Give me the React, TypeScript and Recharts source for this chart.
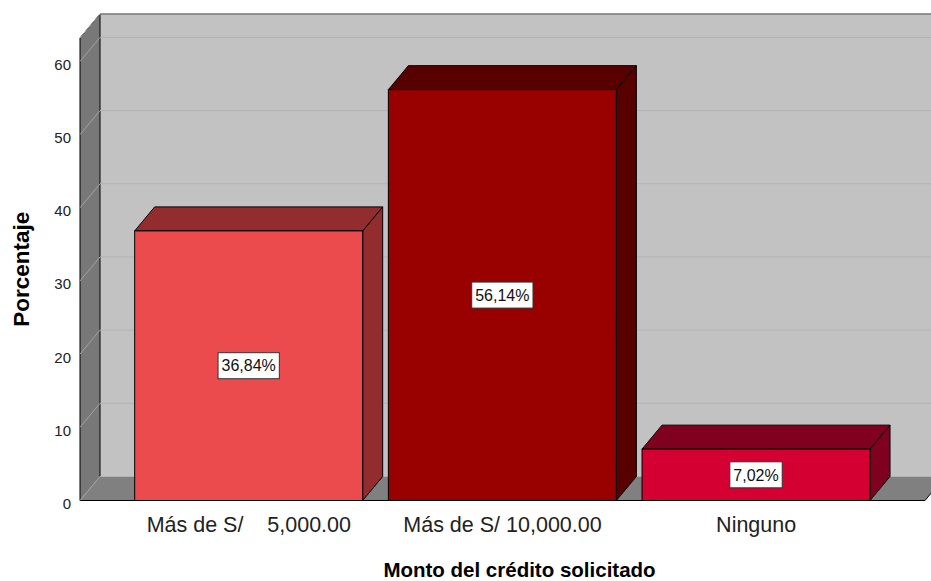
import { Bar, BarChart, CartesianGrid, LabelList, XAxis, YAxis } from "recharts";

const categories = ["Más de S/    5,000.00", "Más de S/ 10,000.00", "Ninguno"];
const percentages = [36.84, 56.14, 7.02];
const yTicks = [0, 10, 20, 30, 40, 50, 60];
const yMax = 63.2;

const FRONT_COLORS = ["#EC4B4D", "#990000", "#D40032"];
const SHADE_COLORS = ["#922C2E", "#580000", "#800020"];

// depth of the fake 3D box (right / up)
const DX = 20;
const DY = 24;
const FONT = '"Liberation Sans", Arial, sans-serif';
const WALL_GRID = "#B3B3B3";
const SIDE_GRID = "#A2A2A2";

const data = categories.map((name, i) => ({ name, value: percentages[i] }));

let measureCtx: CanvasRenderingContext2D | null = null;
function textWidth(text: string, font: string) {
  if (!measureCtx) measureCtx = document.createElement("canvas").getContext("2d");
  if (!measureCtx) return text.length * 8;
  measureCtx.font = font;
  return measureCtx.measureText(text).width;
}

function Walls({ x, y, width, height }: { x: number; y: number; width: number; height: number }) {
  const bottom = y + height;
  const right = x + width;
  return (
    <g>
      <rect x={x + DX} y={y - DY} width={width} height={height} fill="#C2C2C2" />
      <polygon
        points={`${x},${y} ${x + DX},${y - DY} ${x + DX},${bottom - DY} ${x},${bottom}`}
        fill="#787878"
      />
      <polygon
        points={`${x},${bottom} ${x + DX},${bottom - DY} ${right + DX},${bottom - DY} ${right},${bottom}`}
        fill="#808080"
      />
      <g stroke="#000" strokeWidth={1}>
        <line x1={x} y1={y} x2={x} y2={bottom} />
        <line x1={x} y1={y} x2={x + DX} y2={y - DY} />
        <line x1={x + DX} y1={y - DY} x2={right + DX} y2={y - DY} />
        <line x1={x + DX} y1={y - DY} x2={x + DX} y2={bottom - DY} />
        <line x1={x} y1={bottom} x2={right} y2={bottom} />
        <line x1={right} y1={bottom} x2={right + DX} y2={bottom - DY} />
      </g>
    </g>
  );
}

// grid lines are drawn on the side wall and the back wall; the walls go in with the first one
function gridLine(props: any) {
  const { x1, y1, x2, index, x, y, width, height } = props;
  const wy = y1 - DY;
  return (
    <g key={`grid-${index}`}>
      {index === 0 && <Walls x={x} y={y} width={width} height={height} />}
      <line x1={x1} y1={y1} x2={x1 + DX} y2={wy} stroke={SIDE_GRID} />
      <line x1={x1 + DX} y1={wy} x2={x2 + DX} y2={wy} stroke={WALL_GRID} />
    </g>
  );
}

function Box3D(props: any) {
  const { x, y, width, height, payload } = props;
  const i = Math.max(0, categories.indexOf(payload?.name));
  const right = x + width;
  const bottom = y + height;
  return (
    <g stroke="#000" strokeWidth={1}>
      <polygon
        points={`${right},${y} ${right + DX},${y - DY} ${right + DX},${bottom - DY} ${right},${bottom}`}
        fill={SHADE_COLORS[i]}
      />
      <polygon
        points={`${x},${y} ${x + DX},${y - DY} ${right + DX},${y - DY} ${right},${y}`}
        fill={SHADE_COLORS[i]}
      />
      <rect x={x} y={y} width={width} height={height} fill={FRONT_COLORS[i]} />
    </g>
  );
}

function ValueBox(props: any) {
  const { x, y, width, height, value } = props;
  const text = Number(value).toFixed(2).replace(".", ",") + "%";
  const w = textWidth(text, `16px ${FONT}`) + 7;
  const h = 26;
  const cx = x + width / 2;
  const cy = y + height / 2;
  return (
    <g>
      <rect x={cx - w / 2} y={cy - h / 2} width={w} height={h} fill="#fff" stroke="#333" />
      <text x={cx} y={cy} dy="0.36em" textAnchor="middle" fontSize={16} fontFamily={FONT} fill="#111">
        {text}
      </text>
    </g>
  );
}

function CategoryTick(props: any) {
  const { x, y, payload } = props;
  return (
    <text
      x={x}
      y={y}
      dy={31.5}
      textAnchor="middle"
      fontSize={21.5}
      fontFamily={FONT}
      fill="#222"
      style={{ whiteSpace: "pre" }}
    >
      {payload.value}
    </text>
  );
}

function ValueTick(props: any) {
  const { x, y, payload } = props;
  return (
    <text x={x} y={y} dy={8.5} textAnchor="end" fontSize={15} fontFamily={FONT} fill="#222">
      {payload.value}
    </text>
  );
}

export default function App() {
  return (
    <div style={{ position: "absolute", left: 0, top: 0 }}>
      <BarChart
        width={931}
        height={581}
        data={data}
        margin={{ top: 38, right: 6, bottom: 0, left: 0 }}
        barCategoryGap="5%"
      >
        <CartesianGrid vertical={false} horizontal={gridLine} />
        <XAxis
          dataKey="name"
          height={80.5}
          axisLine={false}
          tickLine={false}
          tickSize={0}
          tickMargin={0}
          interval={0}
          padding={{ left: 42, right: 42 }}
          tick={<CategoryTick />}
          label={{
            content: (p: any) => {
              const vb = p.viewBox;
              return (
                <text
                  x={vb.x + vb.width / 2 + 17}
                  y={vb.y + vb.height - 4}
                  textAnchor="middle"
                  fontSize={20.5}
                  fontWeight="bold"
                  fontFamily={FONT}
                  fill="#000"
                >
                  Monto del crédito solicitado
                </text>
              );
            },
          }}
        />
        <YAxis
          type="number"
          domain={[0, yMax]}
          ticks={yTicks}
          width={80}
          axisLine={false}
          tickLine={false}
          tickSize={0}
          tickMargin={9}
          tick={<ValueTick />}
          label={{
            content: (p: any) => {
              const vb = p.viewBox;
              const tx = vb.x + 29;
              const ty = vb.y + vb.height / 2;
              return (
                <text
                  x={tx}
                  y={ty}
                  transform={`rotate(-90, ${tx}, ${ty})`}
                  textAnchor="middle"
                  fontSize={22.5}
                  fontWeight="bold"
                  fontFamily={FONT}
                  fill="#000"
                >
                  Porcentaje
                </text>
              );
            },
          }}
        />
        <Bar dataKey="value" shape={Box3D} isAnimationActive={false}>
          <LabelList dataKey="value" content={ValueBox} />
        </Bar>
      </BarChart>
    </div>
  );
}
